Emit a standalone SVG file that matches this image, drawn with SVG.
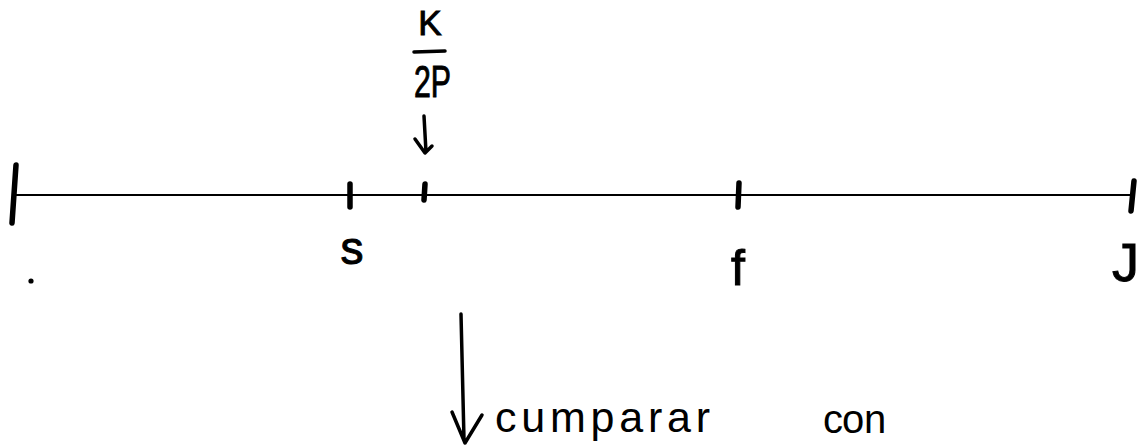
<svg xmlns="http://www.w3.org/2000/svg" width="1139" height="446" viewBox="0 0 1139 446">
<style>
.ax{stroke:#000;stroke-width:2;fill:none;stroke-linecap:round}
.tk{stroke:#000;stroke-width:5.5;fill:none;stroke-linecap:round}
.ar{stroke:#000;stroke-width:3.5;fill:none;stroke-linecap:round;stroke-linejoin:round}
.t{font-family:"Liberation Sans","DejaVu Sans",sans-serif;fill:#000}
.b{stroke:#000;stroke-width:1}
</style>
<rect width="1139" height="446" fill="#fff"/>
<g id="axis">
<line class="ax" x1="14" y1="195" x2="1132" y2="195"/>
<line class="tk" x1="16" y1="165" x2="12" y2="223"/>
<circle cx="31" cy="281" r="2.6" fill="#000"/>
</g>
<g id="tick-s">
<line class="tk" x1="350" y1="184" x2="350" y2="207"/>
<text class="t b" x="352" y="264" font-size="46" text-anchor="middle">s</text>
</g>
<g id="tick-k2p">
<line class="tk" x1="425" y1="184" x2="424" y2="200"/>
<text class="t b" x="430" y="35" font-size="35" text-anchor="middle">K</text>
<line class="ar" x1="414" y1="52" x2="445" y2="51" stroke-width="4"/>
<text class="t b" x="414" y="97" font-size="44" textLength="37" lengthAdjust="spacingAndGlyphs">2P</text>
</g>
<g id="tick-f">
<line class="tk" x1="739" y1="183" x2="738" y2="207"/>
<text class="t b" x="738" y="285" font-size="50" text-anchor="middle">f</text>
</g>
<g id="tick-end">
<line class="tk" x1="1134" y1="181" x2="1131" y2="211"/>
<text class="t b" x="1112" y="281" font-size="54">J</text>
</g>
<g id="connectors">
<path class="ar" d="M461 314 L464 440 M452 412 L465 443 L482 415"/>
<path class="ar" d="M424 116 L426 152 M415 139 L425 153 L432 146"/>
</g>
<g id="labels">
<text class="t" x="495" y="432" font-size="43" textLength="215" lengthAdjust="spacing">cumparar</text>
<text class="t" x="823 842 864" y="433" font-size="40">con</text>
</g>
</svg>
